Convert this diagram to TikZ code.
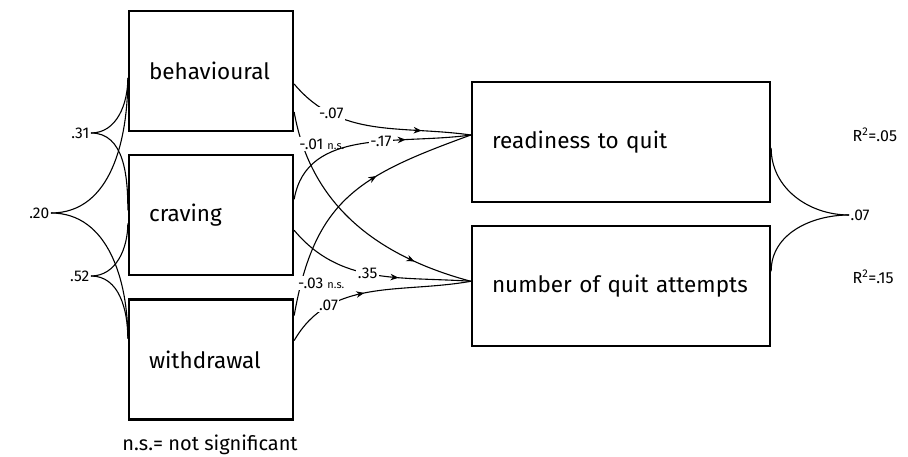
\documentclass[tikz,border=0pt]{standalone}
\usepackage{fontspec}
\setmainfont{Fira Sans}
\usetikzlibrary{positioning,arrows.meta,decorations.markings}
\newcommand\nstext{\fontsize{11}{12}\selectfont n.s.}

\begin{document}
\begin{tikzpicture}[x=1pt, y=1pt,
    box/.style = {draw, line width=2.3pt, minimum height=120pt, text width=#1, inner xsep=20pt, align=left, font=\fontsize{22.5}{26}\selectfont},
    coef/.style = {inner sep=1.5pt, font=\fontsize{15.5}{18}\selectfont},
    lbl/.style = {coef, fill=white},
    corr/.style = {line width=1.1pt},
    link/.style = {corr, postaction={decorate}, decoration={markings, mark=at position #1 with {\arrow{Stealth[length=8pt, width=6.5pt, inset=2.5pt]}}}},
    node distance=22pt]
    \useasboundingbox (0,0) rectangle (908,457);
    % predictors
    \node[box=124pt] (behav) at (211,386) {behavioural};
    \node[box=124pt, below=of behav] (crav) {craving};
    \node[box=124pt, below=of crav] (withd) {withdrawal};
    % outcomes
    \node[box=258pt] (ready) at (621,315) {readiness to quit};
    \node[box=258pt, below=of ready] (quit) {number of quit attempts};
    % correlations
    \node[coef, anchor=east] (c31) at (91,324) {.31};
    \node[coef, anchor=east] (c20) at (51,244) {.20};
    \node[coef, anchor=east] (c52) at (91,181) {.52};
    \node[coef, anchor=west] (c07) at (849,242) {.07};
    \node[coef, anchor=west, font=\fontsize{16}{18}\selectfont] (r1) at (851,322) {R\textsuperscript{2}=.05};
    \node[coef, anchor=west, font=\fontsize{16}{18}\selectfont] (r2) at (851,180) {R\textsuperscript{2}=.15};
    \node (note) at (210,12) [font=\fontsize{20}{22}\selectfont] {n.s.= not significant};
    \draw[corr] (c31.east) to[out=0, in=-90] ([yshift=-7pt]behav.west);
    \draw[corr] (c31.east) to[out=0, in=90] ([yshift=5pt]crav.west);
    \draw[corr] (c20.east) to[out=0, in=-90] ([yshift=-7pt]behav.west);
    \draw[corr] (c20.east) to[out=0, in=90] ([yshift=21pt]withd.west);
    \draw[corr] (c52.east) to[out=0, in=-90] ([yshift=-8pt]crav.west);
    \draw[corr] (c52.east) to[out=0, in=90] ([yshift=21pt]withd.west);
    \draw[corr] ([yshift=-6pt]ready.east) to[out=-90, in=180] (c07.west);
    \draw[corr] ([yshift=15pt]quit.east) to[out=90, in=180] (c07.west);
    % paths
    \draw[link=0.74] ([yshift=-13pt]behav.east) to[out=-50, in=172] node[lbl, pos=0.25] {-.07} ([yshift=7pt]ready.west);
    \draw[link=0.77] ([yshift=-41pt]behav.east) to[out=-80, in=165] node[lbl, pos=0.12, anchor=west, xshift=-5pt] {-.01 \nstext} ([yshift=5pt]quit.west);
    \draw[link=0.68] ([yshift=16pt]crav.east) to[out=80, in=188] node[lbl, pos=0.6] {-.17} ([yshift=7pt]ready.west);
    \draw[link=0.62] ([yshift=-15pt]crav.east) to[out=-50, in=176] node[lbl, pos=0.47] {.35} ([yshift=5pt]quit.west);
    \draw[link=0.62] ([yshift=44pt]withd.east) to[out=80, in=200, looseness=1.2] node[lbl, pos=0.1, anchor=west, xshift=-5pt] {-.03 \nstext} ([yshift=7pt]ready.west);
    \draw[link=0.45] ([yshift=19pt]withd.east) to[out=60, in=190] node[lbl, pos=0.26] {.07} ([yshift=5pt]quit.west);
\end{tikzpicture}
\end{document}
